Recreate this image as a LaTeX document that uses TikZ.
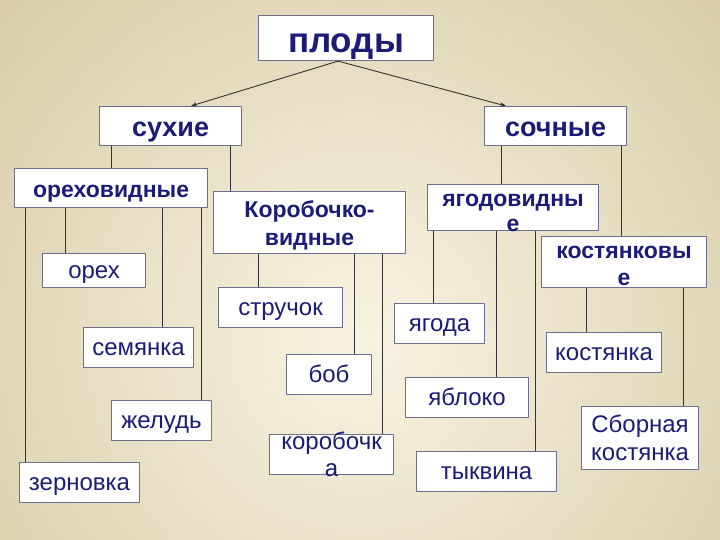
\documentclass[tikz,border=0pt]{standalone}
\usepackage{fontspec}
\setmainfont{Liberation Sans}
\usetikzlibrary{arrows.meta}
\definecolor{ink}{HTML}{1C1C78}
\definecolor{boxline}{HTML}{6E6E90}
\definecolor{bgin}{HTML}{F8F3E2}
\definecolor{bgout}{HTML}{D6CAA5}
\definecolor{wire}{HTML}{333333}
\tikzset{
	box/.style={draw=boxline, fill=white, line width=1.1pt, inner sep=0pt, anchor=north west, text=ink},
	top/.style={box, font=\bfseries\fontsize{35}{40}\selectfont, text height=28pt, text depth=0pt},
	kind/.style={box, font=\bfseries\fontsize{27}{32}\selectfont, text height=21pt, text depth=0pt},
	group/.style={box, font=\bfseries\fontsize{23}{28}\selectfont, text height=19.5pt, text depth=0pt},
	leaf/.style={box, font=\fontsize{24}{28}\selectfont, text height=16.3pt, text depth=0pt},
	wrap/.style={text=ink, inner sep=0pt, align=center},
	link/.style={draw=wire, line width=0.9pt},
	arr/.style={link, -{Stealth[length=6pt,width=4.5pt]}}
}
\begin{document}
\begin{tikzpicture}[x=1pt, y=-1pt, line join=round]
	\begin{scope}
		\clip (0,0) rectangle (720,540);
		\shade[inner color=bgin, outer color=bgout] (360,340) circle (530);
	\end{scope}
	\useasboundingbox (0,0) rectangle (720,540);

	\node[top, minimum width=175, minimum height=45] (plody) at (258,15) {плоды};
	\node[kind, minimum width=142, minimum height=39] (suhie) at (99,106) {сухие};
	\node[kind, minimum width=142, minimum height=39] (sochn) at (484,106) {сочные};

	\node[group, minimum width=193, minimum height=39] (orehov) at (14,168) {ореховидные};
	\node[box, minimum width=192, minimum height=62] (korob) at (213,191) {};
	\node[wrap, font=\bfseries\fontsize{23}{28}\selectfont, yshift=-3] at (korob.center) {Коробочко-\\видные};
	\node[box, minimum width=171, minimum height=46] (yagodv) at (427,184) {};
	\node[wrap, font=\bfseries\fontsize{23}{25}\selectfont, yshift=-5.5] at (yagodv.center) {ягодовидны\\е};
	\node[box, minimum width=165, minimum height=51] (kostv) at (541,236) {};
	\node[wrap, font=\bfseries\fontsize{23}{26.5}\selectfont, yshift=-4] at (kostv.center) {костянковы\\е};

	\node[leaf, minimum width=103, minimum height=34] (oreh) at (42,253) {орех};
	\node[leaf, minimum width=110, minimum height=40] (semyanka) at (83,327) {семянка};
	\node[leaf, minimum width=100, minimum height=40] (zhelud) at (111,400) {желудь};
	\node[leaf, minimum width=120, minimum height=40] (zernovka) at (19,462) {зерновка};
	\node[leaf, minimum width=124, minimum height=40] (struchok) at (218,287) {стручок};
	\node[leaf, minimum width=85, minimum height=40] (bob) at (286,354) {боб};
	\node[box, minimum width=124, minimum height=40] (korobochka) at (269,434) {};
	\node[wrap, font=\fontsize{24}{27}\selectfont] at (korobochka.center) {коробочк\\а};
	\node[leaf, minimum width=90, minimum height=40] (yagoda) at (394,303) {ягода};
	\node[leaf, minimum width=123, minimum height=40] (yabloko) at (405,377) {яблоко};
	\node[leaf, minimum width=140, minimum height=40] (tykvina) at (416,451) {тыквина};
	\node[leaf, minimum width=115, minimum height=40] (kostyanka) at (546,332) {костянка};
	\node[box, minimum width=117, minimum height=63] (sbornaya) at (581,406) {};
	\node[wrap, font=\fontsize{24}{28}\selectfont] at (sbornaya.center) {Сборная\\костянка};

	\draw[arr] ([xshift=80]plody.south west) -- ([xshift=92]suhie.north west);
	\draw[arr] ([xshift=80]plody.south west) -- ([xshift=22]sochn.north west);
	\foreach \p/\dx/\c in {suhie/12/orehov, suhie/131/korob, sochn/17/yagodv, sochn/137/kostv,
		orehov/11/zernovka, orehov/51/oreh, orehov/148/semyanka, orehov/187/zhelud,
		korob/45/struchok, korob/141/bob, korob/169/korobochka,
		yagodv/6/yagoda, yagodv/69/yabloko, yagodv/108/tykvina,
		kostv/45/kostyanka, kostv/142/sbornaya}
		\draw[link] ([xshift=\dx]\p.south west) coordinate (top) -- (top |- \c.north);
\end{tikzpicture}
\end{document}
